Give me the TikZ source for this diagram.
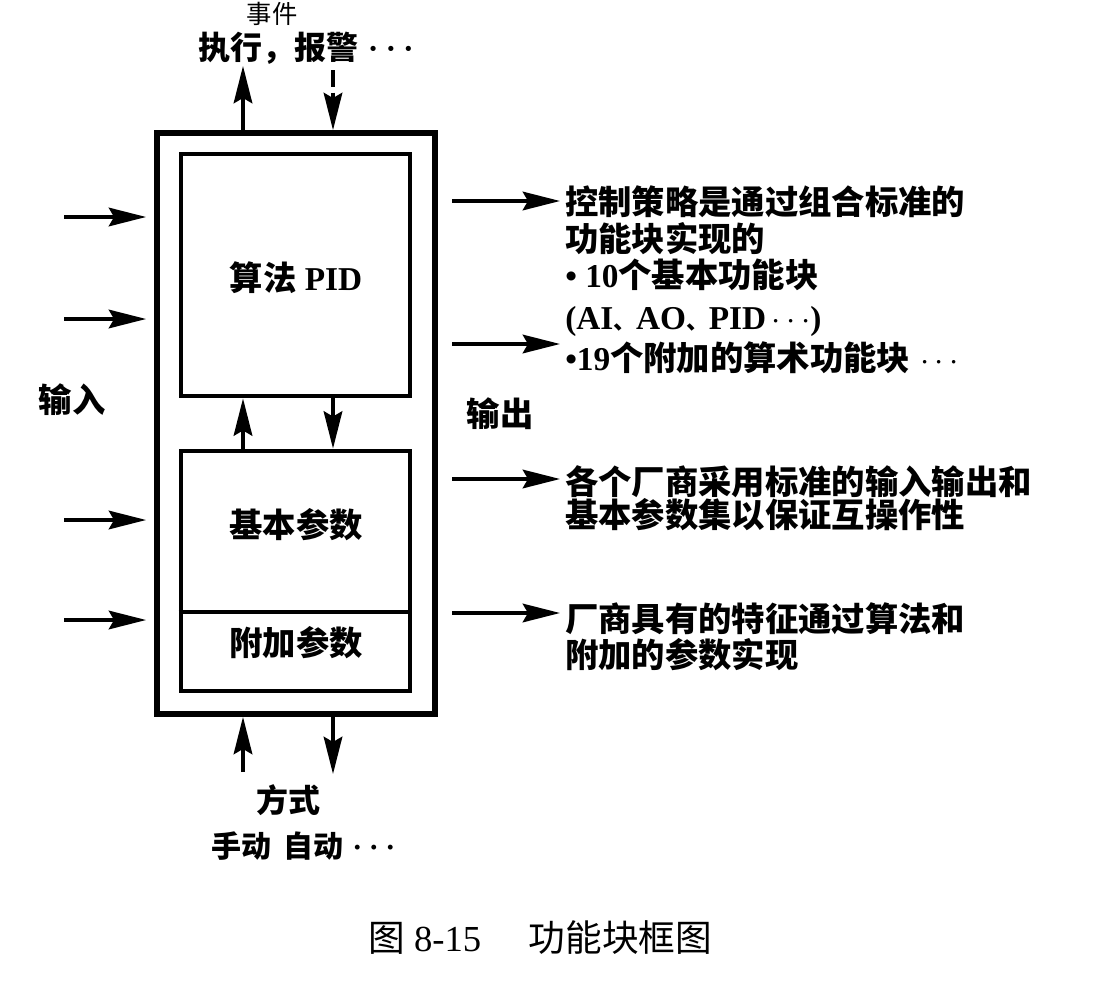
\documentclass[tikz,border=0pt]{standalone}
\usepackage{fontspec}
\setmainfont{Liberation Serif}
\newfontfamily\cjk{Noto Sans CJK SC}
\usetikzlibrary{arrows.meta}
\newcommand\zh[1]{{\cjk #1}}
\newcommand\pxu{*0.75pt}
\newcommand\tdots{\hspace{0.3em}·\hspace{0.22em}·\hspace{0.22em}·}
\newcommand\dun{{\cjk\fontsize{17pt}{17pt}\selectfont 、}}
\tikzset{
  box/.style={draw, line width=3.7pt, inner sep=0pt},
  arr/.style={line width=2.3pt, -{Stealth[length=28pt,width=14pt,inset=4pt]}},
  lbl/.style={inner sep=0pt, font=\bfseries\fontsize{25pt}{30pt}\selectfont},
  lblw/.style={lbl, anchor=base west},
  lblc/.style={lbl, anchor=base},
  smalltxt/.style={inner sep=0pt, anchor=base, font=\fontsize{19pt}{23pt}\selectfont},
  captext/.style={inner sep=0pt, anchor=base west, font=\fontsize{27.5pt}{32pt}\selectfont},
}
\begin{document}
\begin{tikzpicture}[x=0.75pt,y=-0.75pt]
\useasboundingbox[fill=white] (0,0) rectangle (1103,996);
% boxes
\node[box, line width=4.4pt, minimum width=278\pxu, minimum height=581\pxu] (outer) at (296,423.5) {};
\node[box, minimum width=229\pxu, minimum height=242\pxu] (pid) at (295.5,275) {};
\node[box, minimum width=229\pxu, minimum height=240\pxu] (lower) at (295.5,571) {};
\coordinate (dv) at (0,612);
\draw[line width=2.6pt] (lower.west |- dv) -- (lower.east |- dv);
% box labels
\node[lblc] (tpid) at (296,290) {\zh{算法} PID};
\node[lblc] (tbase) at (296,537) {\zh{基本参数}};
\node[lblc] (taddl) at (296,655) {\zh{附加参数}};
% column coordinates
\coordinate (cA) at (243,0);
\coordinate (cB) at (333,0);
% top
\node[smalltxt] (evt) at (272,23) {\zh{事件}};
\node[lblw, font=\bfseries\fontsize{24pt}{28pt}\selectfont] (exe) at (198,59) {\zh{执行，报警}\tdots};
\coordinate (upT) at (243,66);
\coordinate (dnT) at (333,70);
\draw[arr] (outer.north -| cA) -- (upT);
\draw[arr, dash pattern=on 13pt off 4pt] (dnT) -- (outer.north -| cB);
% middle
\draw[arr] (lower.north -| cA) -- (pid.south -| cA);
\draw[arr] (pid.south -| cB) -- (lower.north -| cB);
% bottom
\coordinate (bU) at (243,772);
\coordinate (bD) at (333,774);
\draw[arr] (bU) -- (outer.south -| cA);
\draw[arr] (outer.south -| cB) -- (bD);
\node[lblc, font=\bfseries\fontsize{24pt}{28pt}\selectfont] (mode) at (288,812) {\zh{方式}};
\node[lblw, font=\bfseries\fontsize{22.5pt}{28pt}\selectfont] (modes) at (211,857) {\zh{手动}\hspace{0.4em}\zh{自动}\tdots};
% inputs
\node[lblc] (tin) at (72,412) {\zh{输入}};
\foreach \i/\y in {1/217,2/319,3/520,4/620}{
  \coordinate (in\i) at (64,\y);
  \draw[arr, shorten >=6pt] (in\i) -- (in\i -| outer.west);
}
% outputs
\node[lblc] (tout) at (500,426) {\zh{输出}};
\foreach \i/\y in {1/201,2/344,3/479,4/613}{
  \coordinate (o\i) at (452,\y);
  \coordinate (r\i) at (560,\y);
  \draw[arr] (o\i) -- (r\i);
}
% right texts
\node[lblw] (t1) at (565,214) {\zh{控制策略是通过组合标准的}};
\node[lblw] (t2) at (565,251) {\zh{功能块实现的}};
\node[lblw] (t3) at (565,287) {• 10\zh{个基本功能块}};
\node[lblw] (t4) at (565,329) {(AI\dun AO\dun PID\,$\cdots$)};
\node[lblw] (t5) at (565,370) {•19\zh{个附加的算术功能块}\hspace{0.3em}$\cdots$};
\node[lblw] (t6) at (565,494) {\zh{各个厂商采用标准的输入输出和}};
\node[lblw] (t7) at (565,527) {\zh{基本参数集以保证互操作性}};
\node[lblw] (t8) at (565,631) {\zh{厂商具有的特征通过算法和}};
\node[lblw] (t9) at (565,667) {\zh{附加的参数实现}};
% caption
\node[captext] (caption) at (368,951) {\zh{图} 8-15\hspace{1.3em}\zh{功能块框图}};
\end{tikzpicture}
\end{document}
